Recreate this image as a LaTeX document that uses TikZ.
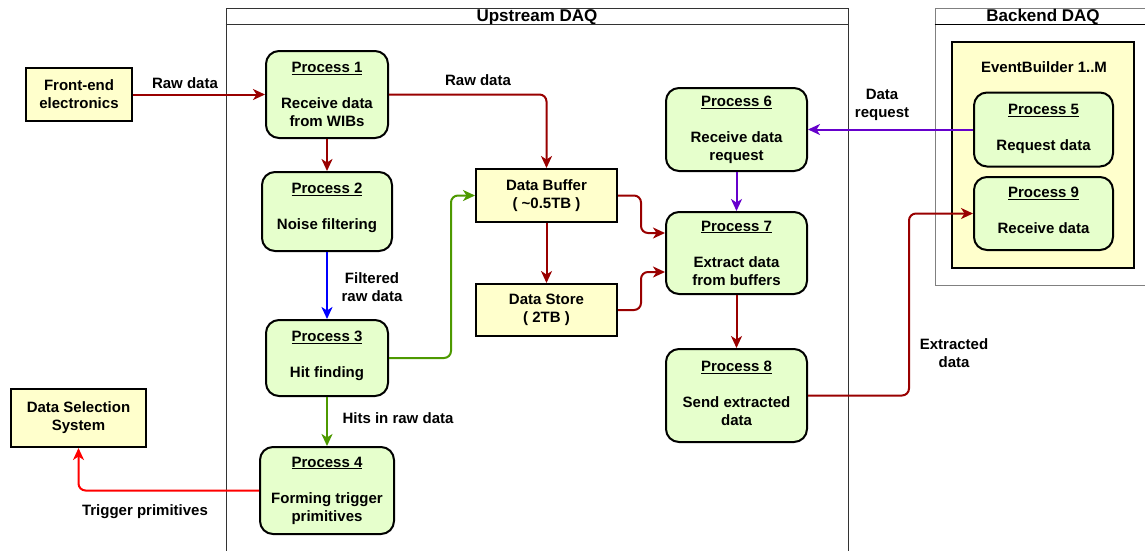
\documentclass[tikz,border=0pt]{standalone}
\usepackage{fontspec}
\setmainfont{Liberation Sans}
\usetikzlibrary{arrows.meta,calc}
\definecolor{procfill}{HTML}{E6FFCC}
\definecolor{yelfill}{HTML}{FFFFCC}
\definecolor{dred}{HTML}{990000}
\definecolor{dgreen}{HTML}{4D9900}
\definecolor{dblue}{HTML}{0000FF}
\definecolor{dpurple}{HTML}{6600CC}
\definecolor{bred}{HTML}{FF0000}
\definecolor{contgray}{HTML}{808080}
\begin{document}
\begin{tikzpicture}[x=1pt,y=-1pt,
  every node/.style={font=\bfseries\fontsize{15}{18}\selectfont, align=center, inner sep=0pt},
  proc/.style={draw, line width=2pt, rounded corners=13pt, fill=procfill},
  ybox/.style={draw, line width=2pt, fill=yelfill},
  conn/.style={line width=2pt, rounded corners=7pt, -{Stealth[length=12pt,width=11pt,inset=3.5pt]}},
  cont/.style={draw, line width=1pt},
  ttl/.style={font=\bfseries\fontsize{17}{20}\selectfont}
]
\useasboundingbox (0,0) rectangle (1145,550);
\clip (0,0) rectangle (1145,550);
\fill[white] (0,0) rectangle (1145,550);

% containers
\node[cont, draw=black!80, minimum width=622pt, minimum height=552pt] (up) at (537,284) {};
\node[ttl] (upt) at (537,17) {Upstream DAQ};
\draw[line width=1pt, black!80] ([yshift=-17pt]up.north west) -- ([yshift=-17pt]up.north east);

\node[cont, draw=contgray, minimum width=215pt, minimum height=277pt] (be) at (1042.5,146.5) {};
\node[ttl] (bet) at (1043,17) {Backend DAQ};
\draw[line width=1pt, black] ([yshift=-17pt]be.north west) -- ([yshift=-17pt]be.north east);

\node[ybox, minimum width=182pt, minimum height=226pt] (eb) at (1043,155) {};
\node (ebt) at (1044,67) {EventBuilder 1..M};

% boxes
\node[ybox, minimum width=106pt, minimum height=53pt] (fe) at (79,94.5) {Front-end\\electronics};
\node[ybox, minimum width=135pt, minimum height=58pt] (dss) at (78.5,418) {Data Selection\\System};
\node[ybox, minimum width=141pt, minimum height=53pt] (buf) at (546.5,195.5) {Data Buffer\\( \textasciitilde0.5TB )};
\node[ybox, minimum width=141pt, minimum height=52pt] (store) at (546.5,310) {Data Store\\( 2TB )};

\node[proc, minimum width=122pt, minimum height=87pt] (p1) at (327,94.5) {\underline{Process 1}\\[18pt]Receive data\\from WIBs};
\node[proc, minimum width=130pt, minimum height=79pt] (p2) at (327,211.5) {\underline{Process 2}\\[18pt]Noise filtering\\[-8pt]{}};
\node[proc, minimum width=122pt, minimum height=76pt] (p3) at (327,358) {\underline{Process 3}\\[18pt]Hit finding\\[-11pt]{}};
\node[proc, minimum width=134pt, minimum height=87pt] (p4) at (327,490.5) {\underline{Process 4}\\[18pt]Forming trigger\\primitives};
\node[proc, minimum width=141pt, minimum height=83pt] (p6) at (736.5,129.5) {\underline{Process 6}\\[18pt]Receive data\\request};
\node[proc, minimum width=141pt, minimum height=82pt] (p7) at (736.5,253) {\underline{Process 7}\\[18pt]Extract data\\from buffers};
\node[proc, minimum width=141pt, minimum height=93pt] (p8) at (736.5,395.5) {\underline{Process 8}\\[18pt]Send extracted\\data\\[-13pt]{}};
\node[proc, minimum width=139pt, minimum height=74pt] (p5) at (1043.5,129.5) {\underline{Process 5}\\[18pt]Request data\\[-14pt]{}};
\node[proc, minimum width=139pt, minimum height=73pt] (p9) at (1043.5,213.5) {\underline{Process 9}\\[18pt]Receive data\\[-12pt]{}};

% labels
\node (l1) at (185,83) {Raw data};
\node (l2) at (478,80) {Raw data};
\node (l3) at (372,287) {Filtered\\raw data};
\node (l4) at (398,418) {Hits in raw data};
\node (l5) at (145,512) {Trigger primitives};
\node (l6) at (882,104.5) {Data\\request};
\node (l7) at (954,353) {Extracted\\data};

% connectors
\draw[conn, dred] (fe.east) -- (p1.west);
\draw[conn, dred] (p1.east) -| (buf.north);
\draw[conn, dred] (p1.south) -- (p2.north);
\draw[conn, dblue] (p2.south) -- (p3.north);
\draw[conn, dgreen] (p3.east) -- ++(62,0) |- (buf.west);
\draw[conn, dgreen] (p3.south) -- (p4.north);
\draw[conn, bred] (p4.west) -| (dss.south);
\draw[conn, dred] (buf.south) -- (store.north);
\draw[conn, dred] (buf.east) -- ++(23,0) |- ([yshift=20pt]p7.west);
\draw[conn, dred] (store.east) -- ++(23,0) |- ([yshift=-19pt]p7.west);
\draw[conn, dpurple] (p5.west) -- (p6.east);
\draw[conn, dpurple] (p6.south) -- (p7.north);
\draw[conn, dred] (p7.south) -- (p8.north);
\draw[conn, dred] (p8.east) -- ++(101,0) |- (p9.west);
\end{tikzpicture}
\end{document}
